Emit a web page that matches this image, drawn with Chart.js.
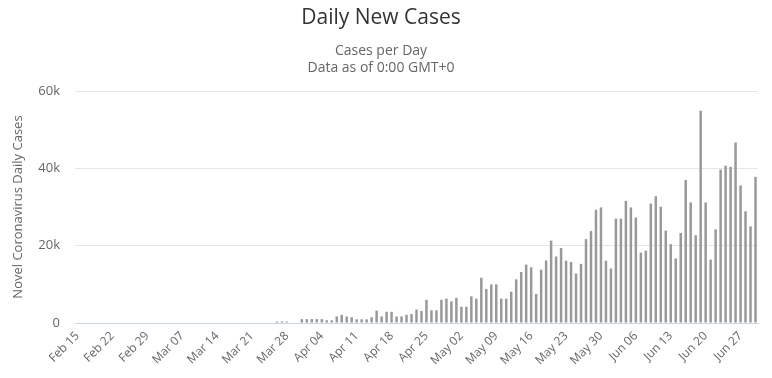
<!DOCTYPE html>
<html>
<head>
<meta charset="utf-8">
<script src="https://cdn.jsdelivr.net/npm/chart.js@4.4.0/dist/chart.umd.min.js"></script>
<style>
  html, body { margin: 0; padding: 0; background: #fff; }
  #wrap { width: 772px; height: 378px; }
</style>
</head>
<body>
<div id="wrap"><canvas id="chart"></canvas></div>
<script>
// daily new cases, one array per month
const febCases = [0, 0, 0, 0, 0, 0, 0, 0, 0, 0, 0, 0, 0, 0, 0]; // Feb 15 - Feb 29
const marCases = [0, 0, 0, 0, 0, 0, 0, 0, 0, 0, 0, 0, 0, 0, 0, 0, 0, 0, 0, 0,
  0, 0, 0, 0, 0, 380, 400, 380, 0, 0, 1000];
const aprCases = [1000, 1000, 1000, 1000, 700, 700, 1700, 2100, 1700, 1500,
  950, 950, 950, 1500, 3200, 1700, 2900, 2900, 1700, 1700,
  2100, 2300, 3500, 3100, 6000, 3300, 3300, 6000, 6300, 5600];
const mayCases = [6500, 4200, 4200, 6900, 6300, 11700, 8800, 10000, 10000, 6300,
  6300, 8100, 11300, 13200, 15100, 14400, 7500, 13800, 16200, 21300,
  17200, 19400, 16100, 15800, 12800, 15300, 21700, 23800, 29300, 29900, 16100];
const junCases = [14100, 27000, 27000, 31600, 29900, 27300, 18200, 18700, 30900, 32800,
  30100, 23900, 20400, 16700, 23300, 37000, 31200, 22700, 54900, 31200,
  16400, 24200, 39700, 40700, 40400, 46700, 35600, 28900, 25000, 37800];

const months = ['Feb', 'Mar', 'Apr', 'May', 'Jun'];
const firstDay = [15, 1, 1, 1, 1];
const monthCases = [febCases, marCases, aprCases, mayCases, junCases];

const yTicks = [0, 20000, 40000, 60000];

const labels = [];
const values = [];
monthCases.forEach((arr, m) => {
    arr.forEach((v, i) => {
        const d = firstDay[m] + i;
        labels.push(months[m] + ' ' + (d < 10 ? '0' + d : d));
        values.push(v);
    });
});

const FONT = '"Open Sans", sans-serif';

new Chart(document.getElementById('chart'), {
    type: 'bar',
    data: {
        labels: labels,
        datasets: [{
            label: 'Daily Cases',
            data: values,
            backgroundColor: '#999999',
            borderWidth: 0,
            barPercentage: 0.5,
            categoryPercentage: 1.0
        }]
    },
    options: {
        responsive: true,
        maintainAspectRatio: false,
        animation: false,
        layout: {
            padding: { left: 4, right: 14, top: 0, bottom: 0 }
        },
        plugins: {
            legend: { display: false },
            tooltip: { enabled: false },
            title: {
                display: true,
                text: 'Daily New Cases',
                color: '#333333',
                font: { family: FONT, size: 21, weight: 'normal' },
                padding: { top: 5, bottom: 12 }
            },
            subtitle: {
                display: true,
                text: ['Cases per Day', 'Data as of 0:00 GMT+0'],
                color: '#666666',
                font: { family: FONT, size: 14, weight: 'normal', lineHeight: 1.21 },
                padding: { top: 0, bottom: 15 }
            }
        },
        scales: {
            x: {
                grid: { display: false, drawTicks: false },
                border: { display: true, color: '#ccd6eb', width: 1 },
                ticks: {
                    autoSkip: false,
                    maxRotation: 45,
                    minRotation: 45,
                    padding: 6,
                    color: '#666666',
                    font: { family: FONT, size: 12 },
                    callback: function (val, idx) {
                        return idx % 7 === 0 ? this.getLabelForValue(val) : '';
                    }
                },
                afterFit: (scale) => { scale.height = 55; }
            },
            y: {
                min: 0,
                max: 60000,
                afterBuildTicks: (scale) => { scale.ticks = yTicks.map(v => ({ value: v })); },
                grid: { color: '#e6e6e6', drawTicks: false },
                border: { display: false },
                ticks: {
                    padding: 15,
                    color: '#666666',
                    font: { family: FONT, size: 13 },
                    callback: (v) => v === 0 ? '0' : (v / 1000) + 'k'
                },
                title: {
                    display: true,
                    text: 'Novel Coronavirus Daily Cases',
                    color: '#666666',
                    font: { family: FONT, size: 13 },
                    padding: { top: 6, bottom: 0 }
                },
                afterFit: (scale) => { scale.width = 71; }
            }
        }
    }
});
</script>
</body>
</html>
